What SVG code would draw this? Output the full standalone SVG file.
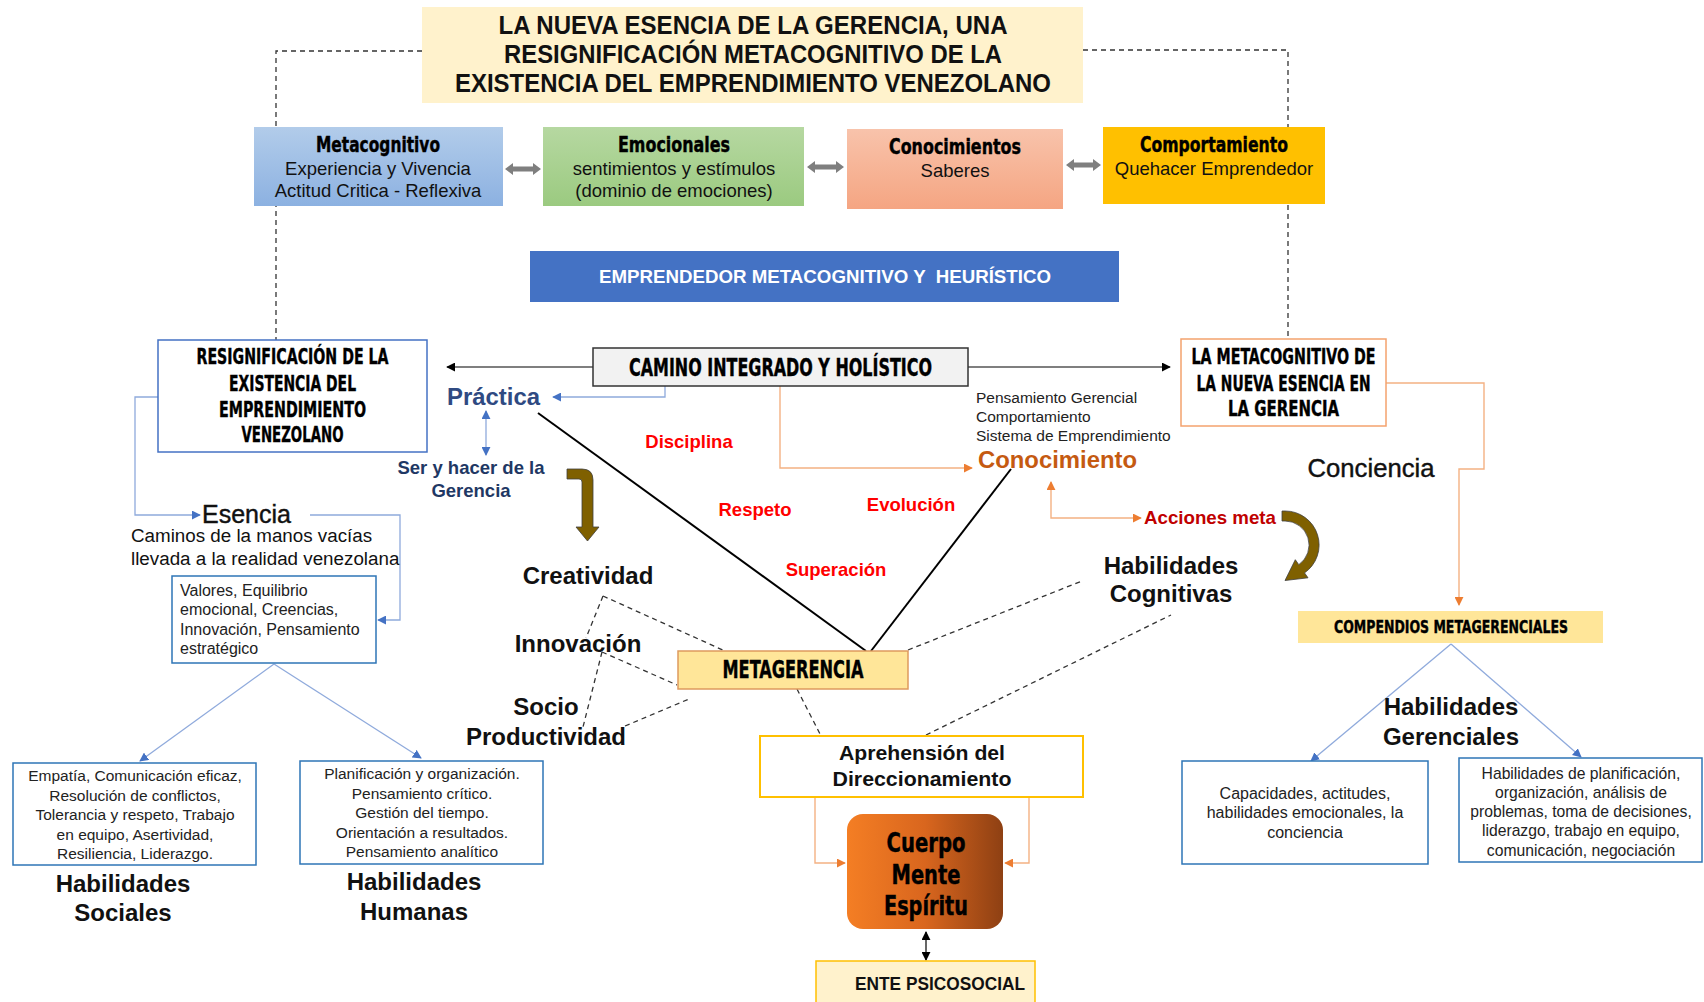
<svg xmlns="http://www.w3.org/2000/svg" width="1704" height="1002" viewBox="0 0 1704 1002">
  <defs>
    <linearGradient id="gBlue" x1="0" y1="0" x2="0" y2="1">
      <stop offset="0" stop-color="#B2CCEA"/>
      <stop offset="1" stop-color="#8CB1E1"/>
    </linearGradient>
    <linearGradient id="gGreen" x1="0" y1="0" x2="0" y2="1">
      <stop offset="0" stop-color="#B6D8A1"/>
      <stop offset="1" stop-color="#9BCA80"/>
    </linearGradient>
    <linearGradient id="gSalmon" x1="0" y1="0" x2="0" y2="1">
      <stop offset="0" stop-color="#F8C3AB"/>
      <stop offset="1" stop-color="#F5A582"/>
    </linearGradient>
    <linearGradient id="gCuerpo" x1="0" y1="0" x2="1" y2="0">
      <stop offset="0" stop-color="#F47E24"/>
      <stop offset="0.5" stop-color="#D9661E"/>
      <stop offset="1" stop-color="#8E4013"/>
    </linearGradient>
    <marker id="aBlack" viewBox="0 0 10 10" refX="9" refY="5" markerWidth="9" markerHeight="9" markerUnits="userSpaceOnUse" orient="auto-start-reverse">
      <path d="M0,0 L10,5 L0,10 z" fill="#000"/>
    </marker>
    <marker id="aBlue" viewBox="0 0 10 10" refX="9" refY="5" markerWidth="9" markerHeight="9" markerUnits="userSpaceOnUse" orient="auto-start-reverse">
      <path d="M0,0 L10,5 L0,10 z" fill="#4472C4"/>
    </marker>
    <marker id="aOrange" viewBox="0 0 10 10" refX="9" refY="5" markerWidth="9" markerHeight="9" markerUnits="userSpaceOnUse" orient="auto-start-reverse">
      <path d="M0,0 L10,5 L0,10 z" fill="#ED7D31"/>
    </marker>
    <style>
      .s { font-family: "Liberation Sans", Arial, sans-serif; }
      .b { font-family: "Liberation Sans", Arial, sans-serif; font-weight: bold; }
      .imp { font-family: "Liberation Sans Narrow", "DejaVu Sans Condensed", "Liberation Sans", sans-serif; font-weight: bold; stroke: #000; stroke-width: 0.4; fill: #000; }
      .mid { text-anchor: middle; }
      .red { fill: #FF0000; font-size: 18.5px; }
      .big { font-size: 24px; fill: #111; }
      .small { font-size: 15.5px; fill: #222; }
      .dash { fill: none; stroke: #333; stroke-width: 1.3; stroke-dasharray: 5 4; }
      .lb { fill: none; stroke: #8FAADC; stroke-width: 1.3; }
      .lo { fill: none; stroke: #F4B183; stroke-width: 1.4; }
      .lk { fill: none; stroke: #000; stroke-width: 1.2; }
      .grey { fill: #7F7F7F; }
      .brown { fill: #7F6000; stroke: #3F3F3F; stroke-width: 0.8; }
    </style>
  </defs>

  <rect width="1704" height="1002" fill="#fff"/>

  <!-- connectors -->
  <g id="connectors">
    <!-- dashed frame from the title down to the two side boxes -->
    <polyline class="dash" points="422,51 276,51 276,340"/>
    <polyline class="dash" points="1083,50 1288,50 1288,339"/>

    <!-- camino integrado -> side boxes -->
    <line class="lk" x1="593" y1="367" x2="447" y2="367" marker-end="url(#aBlack)"/>
    <line class="lk" x1="968" y1="367" x2="1170" y2="367" marker-end="url(#aBlack)"/>

    <!-- camino integrado -> Práctica / Conocimiento -->
    <polyline class="lb" points="665,386 665,397 553,397" marker-end="url(#aBlue)"/>
    <polyline class="lo" points="780,386 780,468 972,468" marker-end="url(#aOrange)"/>

    <!-- Conocimiento <-> Acciones meta -->
    <polyline class="lo" points="1051,482 1051,518 1141,518" marker-start="url(#aOrange)" marker-end="url(#aOrange)"/>

    <!-- metacognitivo de la nueva esencia -> compendios -->
    <polyline class="lo" points="1386,383 1484,383 1484,469 1459,469 1459,605" marker-end="url(#aOrange)"/>

    <!-- resignificación -> Esencia -> valores -->
    <polyline class="lb" points="158,397 135,397 135,515 200,515" marker-end="url(#aBlue)"/>
    <polyline class="lb" points="310,515 400,515 400,620 378,620" marker-end="url(#aBlue)"/>

    <!-- Práctica <-> Ser y hacer -->
    <line class="lb" x1="486" y1="411" x2="486" y2="455" stroke="#4472C4" marker-start="url(#aBlue)" marker-end="url(#aBlue)"/>

    <!-- valores -> habilidades sociales / humanas -->
    <line class="lb" x1="274" y1="664" x2="140" y2="761" marker-end="url(#aBlue)"/>
    <line class="lb" x1="274" y1="664" x2="421" y2="758" marker-end="url(#aBlue)"/>

    <!-- compendios -> habilidades gerenciales -->
    <line class="lb" x1="1451" y1="644" x2="1311" y2="761" marker-end="url(#aBlue)"/>
    <line class="lb" x1="1451" y1="644" x2="1581" y2="757" marker-end="url(#aBlue)"/>

    <!-- V lines into metagerencia -->
    <line x1="538" y1="413" x2="866" y2="651" stroke="#000" stroke-width="2"/>
    <line x1="1011" y1="469" x2="871" y2="651" stroke="#000" stroke-width="2"/>

    <!-- dashed web around metagerencia -->
    <line class="dash" x1="603" y1="596" x2="725" y2="651"/>
    <line class="dash" x1="603" y1="596" x2="586" y2="638"/>
    <line class="dash" x1="602" y1="652" x2="583" y2="727"/>
    <line class="dash" x1="602" y1="652" x2="677" y2="685"/>
    <line class="dash" x1="625" y1="726" x2="689" y2="699"/>
    <line class="dash" x1="797" y1="689" x2="820" y2="734"/>
    <line class="dash" x1="908" y1="650" x2="1082" y2="581"/>
    <line class="dash" x1="926" y1="735" x2="1171" y2="615"/>

    <!-- aprehensión -> cuerpo mente espíritu -->
    <polyline class="lo" points="815,797 815,863 845,863" marker-end="url(#aOrange)"/>
    <polyline class="lo" points="1029,797 1029,863 1005,863" marker-end="url(#aOrange)"/>

    <!-- cuerpo <-> ente psicosocial -->
    <line class="lk" x1="926" y1="932" x2="926" y2="960" marker-start="url(#aBlack)" marker-end="url(#aBlack)"/>

    <!-- grey double arrows between the top boxes -->
    <path class="grey" d="M505,169 L513,163 L513,166.5 L533,166.5 L533,163 L541,169 L533,175 L533,171.5 L513,171.5 L513,175 Z"/>
    <path class="grey" d="M807,167 L815,161 L815,164.5 L836,164.5 L836,161 L844,167 L836,173 L836,169.5 L815,169.5 L815,173 Z"/>
    <path class="grey" d="M1066,165 L1074,159 L1074,162.5 L1093,162.5 L1093,159 L1101,165 L1093,171 L1093,167.5 L1074,167.5 L1074,171 Z"/>

    <!-- brown bent arrow towards Creatividad -->
    <path class="brown" d="M567,469 L582,469 Q593,469 593,480 L593,527 L599,527 L587.5,541 L576,527 L582,527 L582,482 Q582,479 579,479 L567,479 Z"/>

    <!-- brown curved arrow from Acciones meta -->
    <path class="brown" d="M1282,511 L1285,511 A34,34 0 0 1 1304.5,572.9 L1308,577.8 L1285,580.5 L1295.3,559.7 L1298.8,564.7 A24,24 0 0 0 1285,521 L1282,521 Z"/>
  </g>

  <!-- title -->
  <g id="title">
    <rect x="422" y="7" width="661" height="96" fill="#FFF2CC"/>
    <text class="b mid" x="753" y="34" font-size="25" fill="#111" textLength="509" lengthAdjust="spacingAndGlyphs">LA NUEVA ESENCIA DE LA GERENCIA, UNA</text>
    <text class="b mid" x="753" y="63" font-size="25" fill="#111" textLength="498" lengthAdjust="spacingAndGlyphs">RESIGNIFICACIÓN METACOGNITIVO DE LA</text>
    <text class="b mid" x="753" y="92" font-size="25" fill="#111" textLength="596" lengthAdjust="spacingAndGlyphs">EXISTENCIA DEL EMPRENDIMIENTO VENEZOLANO</text>
  </g>

  <!-- four top boxes -->
  <g id="metacognitivo">
    <rect x="254" y="127" width="249" height="79" fill="url(#gBlue)"/>
    <text class="imp mid" x="378" y="152" font-size="21" textLength="124" lengthAdjust="spacingAndGlyphs">Metacognitivo</text>
    <text class="s mid" x="378" y="175" font-size="18.5" fill="#111">Experiencia y Vivencia</text>
    <text class="s mid" x="378" y="197" font-size="18.5" fill="#111">Actitud Critica - Reflexiva</text>
  </g>
  <g id="emocionales">
    <rect x="543" y="127" width="261" height="79" fill="url(#gGreen)"/>
    <text class="imp mid" x="674" y="152" font-size="21" textLength="112" lengthAdjust="spacingAndGlyphs">Emocionales</text>
    <text class="s mid" x="674" y="175" font-size="18.5" fill="#111">sentimientos y estímulos</text>
    <text class="s mid" x="674" y="197" font-size="18.5" fill="#111">(dominio de emociones)</text>
  </g>
  <g id="conocimientos">
    <rect x="847" y="129" width="216" height="80" fill="url(#gSalmon)"/>
    <text class="imp mid" x="955" y="154" font-size="21" textLength="132" lengthAdjust="spacingAndGlyphs">Conocimientos</text>
    <text class="s mid" x="955" y="177" font-size="18.5" fill="#111">Saberes</text>
  </g>
  <g id="comportamiento">
    <rect x="1103" y="127" width="222" height="77" fill="#FFC000"/>
    <text class="imp mid" x="1214" y="152" font-size="21" textLength="148" lengthAdjust="spacingAndGlyphs">Comportamiento</text>
    <text class="s mid" x="1214" y="175" font-size="18.5" fill="#111">Quehacer Emprendedor</text>
  </g>

  <g id="emprendedor">
    <rect x="530" y="251" width="589" height="51" fill="#4472C4"/>
    <text class="b mid" x="825" y="283" font-size="17.5" fill="#fff" textLength="452" lengthAdjust="spacingAndGlyphs" xml:space="preserve">EMPRENDEDOR METACOGNITIVO Y  HEURÍSTICO</text>
  </g>

  <g id="camino">
    <rect x="593" y="348" width="375" height="38" fill="#F2F2F2" stroke="#333" stroke-width="1.5"/>
    <text class="imp mid" x="780.5" y="376" font-size="25" textLength="303" lengthAdjust="spacingAndGlyphs">CAMINO INTEGRADO Y HOLÍSTICO</text>
  </g>

  <g id="resignificacion">
    <rect x="158" y="340" width="269" height="112" fill="#fff" stroke="#4472C4" stroke-width="1.5"/>
    <text class="imp mid" x="292.5" y="364" font-size="22" textLength="192" lengthAdjust="spacingAndGlyphs">RESIGNIFICACIÓN DE LA</text>
    <text class="imp mid" x="292.5" y="391" font-size="22" textLength="127" lengthAdjust="spacingAndGlyphs">EXISTENCIA DEL</text>
    <text class="imp mid" x="292.5" y="417" font-size="22" textLength="147" lengthAdjust="spacingAndGlyphs">EMPRENDIMIENTO</text>
    <text class="imp mid" x="292.5" y="442" font-size="22" textLength="102" lengthAdjust="spacingAndGlyphs">VENEZOLANO</text>
  </g>

  <g id="metacognitivo-gerencia">
    <rect x="1181" y="339" width="205" height="87" fill="#fff" stroke="#F4A26E" stroke-width="1.5"/>
    <text class="imp mid" x="1283.5" y="364" font-size="22" textLength="184" lengthAdjust="spacingAndGlyphs">LA METACOGNITIVO DE</text>
    <text class="imp mid" x="1283.5" y="391" font-size="22" textLength="174" lengthAdjust="spacingAndGlyphs">LA NUEVA ESENCIA EN</text>
    <text class="imp mid" x="1283.5" y="416" font-size="22" textLength="111" lengthAdjust="spacingAndGlyphs">LA GERENCIA</text>
  </g>

  <g id="practica">
    <text class="b" x="447" y="405" font-size="24" fill="#2F4A82" textLength="93" lengthAdjust="spacingAndGlyphs">Práctica</text>
  </g>
  <g id="ser-hacer">
    <text class="b mid" x="471" y="474" font-size="18.5" fill="#1F3864">Ser y hacer de la</text>
    <text class="b mid" x="471" y="497" font-size="18.5" fill="#1F3864">Gerencia</text>
  </g>

  <g id="esencia">
    <text class="s" x="202" y="523" font-size="25" fill="#111" stroke="#111" stroke-width="0.4" textLength="89" lengthAdjust="spacingAndGlyphs">Esencia</text>
    <text class="s" x="131" y="542" font-size="18.8" fill="#111">Caminos de la manos vacías</text>
    <text class="s" x="131" y="565" font-size="18.8" fill="#111">llevada a la realidad venezolana</text>
  </g>

  <g id="valores">
    <rect x="172" y="576" width="204" height="87" fill="#fff" stroke="#2E75B6" stroke-width="1.5"/>
    <text class="s" x="180" y="596" font-size="16" fill="#222">Valores, Equilibrio</text>
    <text class="s" x="180" y="615" font-size="16" fill="#222">emocional, Creencias,</text>
    <text class="s" x="180" y="635" font-size="16" fill="#222">Innovación, Pensamiento</text>
    <text class="s" x="180" y="654" font-size="16" fill="#222">estratégico</text>
  </g>

  <g id="habilidades-sociales">
    <rect x="13" y="763" width="243" height="102" fill="#fff" stroke="#2E75B6" stroke-width="1.5"/>
    <text class="s mid small" x="135" y="781">Empatía, Comunicación eficaz,</text>
    <text class="s mid small" x="135" y="801">Resolución de conflictos,</text>
    <text class="s mid small" x="135" y="820">Tolerancia y respeto, Trabajo</text>
    <text class="s mid small" x="135" y="840">en equipo, Asertividad,</text>
    <text class="s mid small" x="135" y="859">Resiliencia, Liderazgo.</text>
    <text class="b mid big" x="123" y="892">Habilidades</text>
    <text class="b mid big" x="123" y="921">Sociales</text>
  </g>

  <g id="habilidades-humanas">
    <rect x="300" y="761" width="243" height="103" fill="#fff" stroke="#2E75B6" stroke-width="1.5"/>
    <text class="s mid small" x="422" y="779">Planificación y organización.</text>
    <text class="s mid small" x="422" y="799">Pensamiento crítico.</text>
    <text class="s mid small" x="422" y="818">Gestión del tiempo.</text>
    <text class="s mid small" x="422" y="838">Orientación a resultados.</text>
    <text class="s mid small" x="422" y="857">Pensamiento analítico</text>
    <text class="b mid big" x="414" y="890">Habilidades</text>
    <text class="b mid big" x="414" y="920">Humanas</text>
  </g>

  <g id="valores-centrales">
    <text class="b mid red" x="689" y="448">Disciplina</text>
    <text class="b mid red" x="755" y="516">Respeto</text>
    <text class="b mid red" x="911" y="511">Evolución</text>
    <text class="b mid red" x="836" y="576">Superación</text>
  </g>

  <g id="creatividad">
    <text class="b mid big" x="588" y="584">Creatividad</text>
  </g>
  <g id="innovacion">
    <text class="b mid big" x="578" y="652">Innovación</text>
  </g>
  <g id="socio-productividad">
    <text class="b mid big" x="546" y="715">Socio</text>
    <text class="b mid big" x="546" y="745">Productividad</text>
  </g>

  <g id="conocimiento">
    <text class="s small" x="976" y="403">Pensamiento Gerencial</text>
    <text class="s small" x="976" y="422">Comportamiento</text>
    <text class="s small" x="976" y="441">Sistema de Emprendimiento</text>
    <text class="b" x="978" y="468" font-size="24" fill="#C55A11" textLength="159" lengthAdjust="spacingAndGlyphs">Conocimiento</text>
  </g>

  <g id="acciones-meta">
    <text class="b" x="1144" y="524" font-size="18.5" fill="#C00000" textLength="132" lengthAdjust="spacingAndGlyphs">Acciones meta</text>
  </g>

  <g id="conciencia">
    <text class="s mid" x="1371" y="477" font-size="25" fill="#111" stroke="#111" stroke-width="0.4" textLength="127" lengthAdjust="spacingAndGlyphs">Conciencia</text>
  </g>

  <g id="habilidades-cognitivas">
    <text class="b mid big" x="1171" y="574">Habilidades</text>
    <text class="b mid big" x="1171" y="602">Cognitivas</text>
  </g>

  <g id="metagerencia">
    <rect x="678" y="651" width="230" height="38" fill="#FFE699" stroke="#DE9A5E" stroke-width="1.5"/>
    <text class="imp mid" x="793" y="678" font-size="24" textLength="141" lengthAdjust="spacingAndGlyphs">METAGERENCIA</text>
  </g>

  <g id="aprehension">
    <rect x="760" y="736" width="323" height="61" fill="#fff" stroke="#FFC000" stroke-width="2"/>
    <text class="b mid" x="922" y="760" font-size="21" fill="#111" textLength="166" lengthAdjust="spacingAndGlyphs">Aprehensión del</text>
    <text class="b mid" x="922" y="786" font-size="21" fill="#111" textLength="179" lengthAdjust="spacingAndGlyphs">Direccionamiento</text>
  </g>

  <g id="cuerpo-mente-espiritu">
    <rect x="847" y="814" width="156" height="115" rx="16" fill="url(#gCuerpo)"/>
    <text class="imp mid" x="926" y="852" font-size="26" fill="#fff" stroke="#fff" textLength="79" lengthAdjust="spacingAndGlyphs">Cuerpo</text>
    <text class="imp mid" x="926" y="884" font-size="26" fill="#fff" stroke="#fff" textLength="69" lengthAdjust="spacingAndGlyphs">Mente</text>
    <text class="imp mid" x="926" y="915" font-size="26" fill="#fff" stroke="#fff" textLength="84" lengthAdjust="spacingAndGlyphs">Espíritu</text>
  </g>

  <g id="ente-psicosocial">
    <rect x="816" y="961" width="219" height="45" fill="#FFF2CC" stroke="#FFC000" stroke-width="1.5"/>
    <text class="b mid" x="940" y="990" font-size="18" fill="#111" textLength="170" lengthAdjust="spacingAndGlyphs">ENTE PSICOSOCIAL</text>
  </g>

  <g id="compendios">
    <rect x="1298" y="611" width="305" height="32" fill="#FFE699"/>
    <text class="imp mid" x="1451" y="633" font-size="18" textLength="234" lengthAdjust="spacingAndGlyphs">COMPENDIOS METAGERENCIALES</text>
  </g>

  <g id="habilidades-gerenciales">
    <text class="b mid big" x="1451" y="715">Habilidades</text>
    <text class="b mid big" x="1451" y="745">Gerenciales</text>
  </g>

  <g id="capacidades">
    <rect x="1182" y="761" width="246" height="103" fill="#fff" stroke="#2E75B6" stroke-width="1.5"/>
    <text class="s mid" x="1305" y="799" font-size="16" fill="#222">Capacidades, actitudes,</text>
    <text class="s mid" x="1305" y="818" font-size="16" fill="#222">habilidades emocionales, la</text>
    <text class="s mid" x="1305" y="838" font-size="16" fill="#222">conciencia</text>
  </g>

  <g id="habilidades-planificacion">
    <rect x="1459" y="758" width="243" height="104" fill="#fff" stroke="#2E75B6" stroke-width="1.5"/>
    <text class="s mid" x="1581" y="779" font-size="15.7" fill="#222">Habilidades de planificación,</text>
    <text class="s mid" x="1581" y="798" font-size="15.7" fill="#222">organización, análisis de</text>
    <text class="s mid" x="1581" y="817" font-size="15.7" fill="#222">problemas, toma de decisiones,</text>
    <text class="s mid" x="1581" y="836" font-size="15.7" fill="#222">liderazgo, trabajo en equipo,</text>
    <text class="s mid" x="1581" y="856" font-size="15.7" fill="#222">comunicación, negociación</text>
  </g>
</svg>
